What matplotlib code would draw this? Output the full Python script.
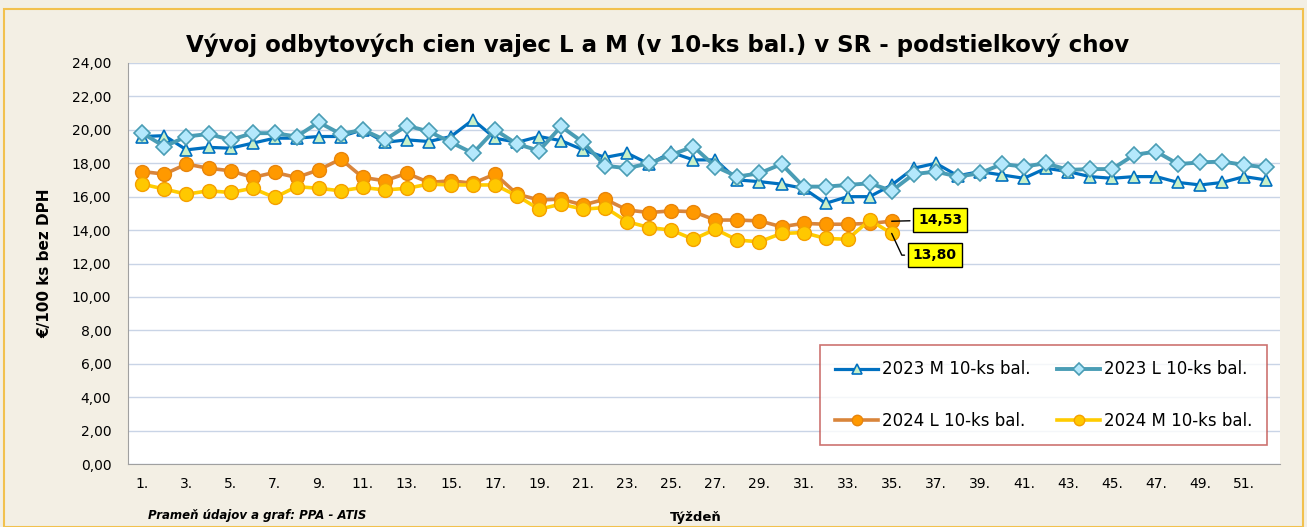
import matplotlib.pyplot as plt
import matplotlib.patches as patches
import numpy as np

# weeks on the x axis
weeks_2023 = list(range(1, 53))
weeks_2024 = list(range(1, 36))

# 2023 M 10-ks bal.
m_2023 = [19.6, 19.65, 18.8, 18.95, 18.9, 19.2, 19.5, 19.5, 19.6, 19.6,
          20.0, 19.25, 19.4, 19.3, 19.6, 20.6, 19.5, 19.25, 19.6, 19.35,
          18.8, 18.35, 18.6, 17.95, 18.65, 18.2, 18.2, 17.0, 16.9, 16.75,
          16.5, 15.6, 16.0, 16.0, 16.7, 17.7, 18.0, 17.25, 17.5, 17.3,
          17.1, 17.7, 17.5, 17.2, 17.1, 17.2, 17.2, 16.85, 16.7, 16.85,
          17.2, 17.0]
# 2023 L 10-ks bal.
l_2023 = [19.8, 19.0, 19.6, 19.75, 19.4, 19.8, 19.8, 19.6, 20.45, 19.75,
          20.0, 19.4, 20.25, 19.9, 19.25, 18.6, 20.0, 19.15, 18.75, 20.2,
          19.25, 17.85, 17.7, 18.0, 18.5, 19.0, 17.8, 17.2, 17.4, 17.95,
          16.6, 16.6, 16.7, 16.8, 16.35, 17.35, 17.5, 17.2, 17.4, 17.95,
          17.8, 18.0, 17.6, 17.65, 17.65, 18.5, 18.7, 17.95, 18.05, 18.1,
          17.9, 17.75]
# 2024 L 10-ks bal.
l_2024 = [17.5, 17.35, 17.95, 17.7, 17.55, 17.15, 17.45, 17.15, 17.6, 18.25,
          17.15, 16.95, 17.4, 16.85, 16.95, 16.8, 17.35, 16.15, 15.8, 15.85,
          15.5, 15.85, 15.2, 15.05, 15.15, 15.1, 14.6, 14.6, 14.55, 14.2,
          14.4, 14.35, 14.35, 14.4, 14.53]
# 2024 M 10-ks bal.
m_2024 = [16.75, 16.45, 16.15, 16.35, 16.25, 16.5, 15.95, 16.6, 16.5, 16.35,
          16.55, 16.4, 16.5, 16.75, 16.7, 16.7, 16.7, 16.05, 15.25, 15.55,
          15.25, 15.35, 14.5, 14.15, 14.0, 13.45, 14.05, 13.4, 13.3, 13.8,
          13.85, 13.5, 13.45, 14.6, 13.80]

y_ticks = np.arange(0, 25, 2)

fig = plt.figure(figsize=(13.07, 5.27), dpi=100)
fig.patch.set_facecolor('#F3EFE4')
fig.patches.append(patches.Rectangle((0.003, 0.0), 0.994, 0.983, transform=fig.transFigure,
                                     fill=False, edgecolor='#F2C14E', linewidth=1.5))

ax = fig.add_axes([0.098, 0.1195, 0.881, 0.761])
ax.set_facecolor('white')

ax.plot(weeks_2023, m_2023, color='#0070C0', lw=2.3, marker='^', ms=9,
        mfc='#C8F0C8', mec='#0070C0', mew=1.2, label='2023 M 10-ks bal.', zorder=3)
ax.plot(weeks_2024, l_2024, color='#D9853B', lw=2.6, marker='o', ms=10,
        mfc='#FF9900', mec='#E8850C', mew=1.0, label='2024 L 10-ks bal.', zorder=4)
ax.plot(weeks_2023, l_2023, color='#4A9DB5', lw=2.8, marker='D', ms=8,
        mfc='#B4E8FC', mec='#4A9DB5', mew=1.2, label='2023 L 10-ks bal.', zorder=3)
ax.plot(weeks_2024, m_2024, color='#FFCC00', lw=2.6, marker='o', ms=10,
        mfc='#FFC800', mec='#F5A000', mew=1.0, label='2024 M 10-ks bal.', zorder=5)

ax.set_xlim(0.35, 52.6)
ax.set_ylim(0, 24)
ax.set_yticks(y_ticks)
ax.set_yticklabels([f'{v:.2f}'.replace('.', ',') for v in y_ticks], fontsize=10)
ax.set_xticks(weeks_2023[::2])
ax.set_xticklabels([f'{w}.' for w in weeks_2023[::2]], fontsize=10)
ax.tick_params(axis='both', length=0)
ax.tick_params(axis='x', pad=9)
ax.tick_params(axis='y', pad=12)
ax.grid(axis='y', color='#C9D4E6', lw=1.0)
ax.set_axisbelow(True)
for side in ['top', 'right']:
    ax.spines[side].set_visible(False)
ax.spines['left'].set_color('#A0A0A0')
ax.spines['bottom'].set_color('#A0A0A0')

ax.set_ylabel('€/100 ks bez DPH', fontsize=11, fontweight='bold', labelpad=14)

fig.text(0.503, 0.914, 'Vývoj odbytových cien vajec L a M (v 10-ks bal.) v SR - podstielkový chov',
         ha='center', va='center', fontsize=16.5, fontweight='bold')
fig.text(0.113, 0.022, 'Prameň údajov a graf: PPA - ATIS', fontsize=8.5,
         fontstyle='italic', fontweight='bold', va='center')
fig.text(0.532, 0.018, 'Týždeň', fontsize=9.5, fontweight='bold', ha='center', va='center')

# data labels for last 2024 values
ax.annotate(f'{l_2024[-1]:.2f}'.replace('.', ','), xy=(weeks_2024[-1], l_2024[-1]),
            xytext=(37.2, 14.6), ha='center', va='center', fontsize=10, fontweight='bold',
            bbox=dict(boxstyle='square,pad=0.35', fc='#FFFF00', ec='black', lw=1),
            arrowprops=dict(arrowstyle='-', color='black', lw=1, shrinkB=0), zorder=6)
ax.annotate(f'{m_2024[-1]:.2f}'.replace('.', ','), xy=(weeks_2024[-1], m_2024[-1]),
            xytext=(36.95, 12.5), ha='center', va='center', fontsize=10, fontweight='bold',
            bbox=dict(boxstyle='square,pad=0.35', fc='#FFFF00', ec='black', lw=1),
            arrowprops=dict(arrowstyle='-', color='black', lw=1, shrinkB=0,
                            connectionstyle='angle,angleA=0,angleB=115,rad=0'), zorder=6)

h, l = ax.get_legend_handles_labels()
leg = ax.legend(h, l, ncol=2, loc='center', bbox_to_anchor=(0.601, 0.042, 0.388, 0.26),
                mode='expand', fontsize=12, frameon=True, fancybox=False, markerscale=0.75,
                handlelength=2.6, labelspacing=2.0, columnspacing=0.8, handletextpad=0.2,
                borderpad=0.9, borderaxespad=0)
leg.get_frame().set_edgecolor('#C0504D')
leg.get_frame().set_linewidth(1.2)

fig.savefig('out.png', dpi=100, facecolor=fig.get_facecolor())
